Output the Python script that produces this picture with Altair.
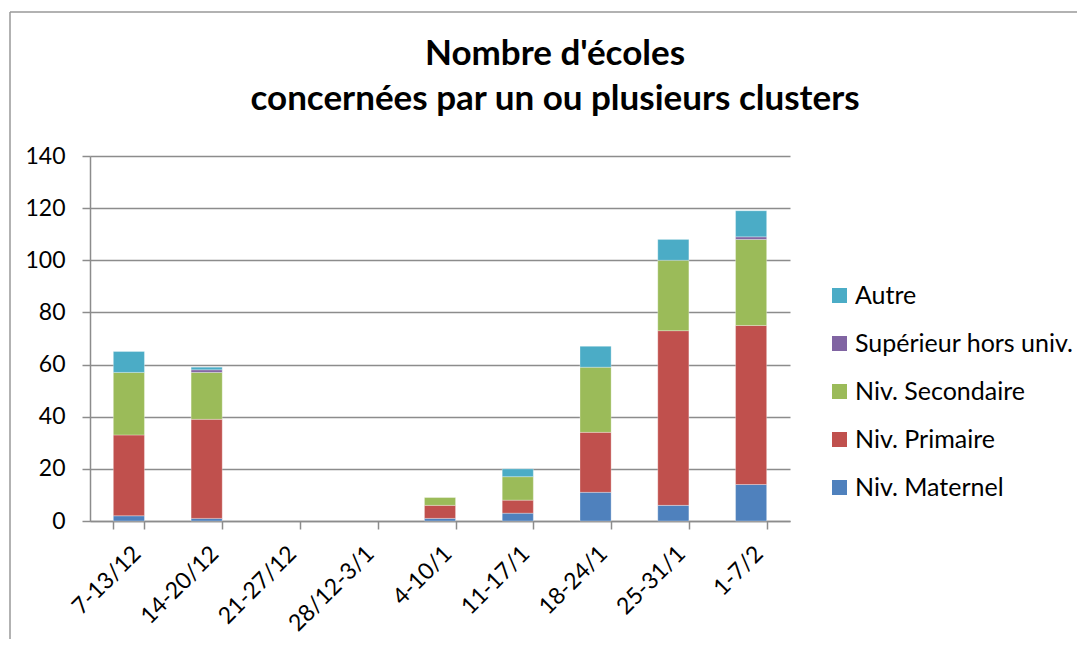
import altair as alt
import pandas as pd

weeks = ["7-13/12", "14-20/12", "21-27/12", "28/12-3/1", "4-10/1", "11-17/1", "18-24/1", "25-31/1", "1-7/2"]
series = ["Niv. Maternel", "Niv. Primaire", "Niv. Secondaire", "Supérieur hors univ.", "Autre"]
maternel   = [2, 1, 0, 0, 1, 3, 11, 6, 14]
primaire   = [31, 38, 0, 0, 5, 5, 23, 67, 61]
secondaire = [24, 18, 0, 0, 3, 9, 25, 27, 33]
superieur  = [0, 1, 0, 0, 0, 0, 0, 0, 1]
autre      = [8, 1, 0, 0, 0, 3, 8, 8, 10]
colors = ["#4F81BD", "#C0504D", "#9BBB59", "#8064A2", "#4BACC6"]
y_ticks = [0, 20, 40, 60, 80, 100, 120, 140]
title_lines = ["Nombre d'écoles", "concernées par un ou plusieurs clusters"]

values = [maternel, primaire, secondaire, superieur, autre]
rows = []
for s_i, (name, vals) in enumerate(zip(series, values)):
    for w, v in zip(weeks, vals):
        rows.append({"semaine": w, "niveau": name, "n": v, "rank": s_i})
df = pd.DataFrame(rows)

legend_order = list(reversed(series))
legend_colors = list(reversed(colors))

FONT = "Lato"
GRAY = "#8c8c8c"

bars = alt.Chart(df).mark_bar(stroke="white", strokeWidth=0.6, strokeOpacity=0.5).encode(
    x=alt.X("semaine:N", sort=weeks, title=None,
            scale=alt.Scale(domain=weeks, paddingInner=0.6, paddingOuter=0.3),
            axis=alt.Axis(labelAngle=-45, labelFontSize=23, labelFont=FONT, labelColor="black",
                          tickBand="extent", tickSize=8, tickColor=GRAY, tickWidth=1.5,
                          domainColor=GRAY, domainWidth=1.5, labelPadding=13, grid=False)),
    y=alt.Y("n:Q", stack="zero", title=None,
            scale=alt.Scale(domain=[0, 140], nice=False),
            axis=alt.Axis(values=y_ticks, labelFontSize=23, labelFont=FONT, labelColor="black",
                          tickSize=8, tickColor=GRAY, tickWidth=1.5, labelPadding=17,
                          domainColor=GRAY, domainWidth=1.5,
                          grid=True, gridColor=GRAY, gridWidth=1.5)),
    color=alt.Color("niveau:N", scale=alt.Scale(domain=legend_order, range=legend_colors),
                    legend=alt.Legend(title=None, orient="none", legendX=737, legendY=127,
                                      symbolType="square", symbolSize=225, symbolStrokeWidth=0,
                                      labelFontSize=25, labelFont=FONT, labelColor="black",
                                      labelLimit=400, rowPadding=22, labelOffset=3)),
    order=alt.Order("rank:Q", sort="ascending"),
).transform_filter("datum.n > 0")

one = alt.Data(values=[{"a": 1}])
frame = alt.Chart(one).mark_rule(color="#999999", strokeWidth=1.5, clip=False).encode(
    x=alt.value(-80), y=alt.value(-144), y2=alt.value(500)
)
frame_top = alt.Chart(one).mark_rule(color="#999999", strokeWidth=1.5, clip=False).encode(
    x=alt.value(-80), x2=alt.value(1000), y=alt.value(-144)
)
title1 = alt.Chart(one).mark_text(font=FONT, fontSize=35, fontWeight="bold", color="black",
                                  align="center", baseline="alphabetic", clip=False).encode(
    x=alt.value(465), y=alt.value(-91), text=alt.value(title_lines[0])
)
title2 = alt.Chart(one).mark_text(font=FONT, fontSize=35, fontWeight="bold", color="black",
                                  align="center", baseline="alphabetic", clip=False).encode(
    x=alt.value(465), y=alt.value(-46), text=alt.value(title_lines[1])
)

chart = alt.layer(frame, frame_top, title1, title2, bars).properties(
    width=700, height=365,
    padding={"left": 82, "top": 148, "right": 287, "bottom": 118},
    autosize=alt.AutoSizeParams(type="none"),
).configure_view(stroke=None)

chart.save("out.html", embed_options={"renderer": "svg", "actions": False})
